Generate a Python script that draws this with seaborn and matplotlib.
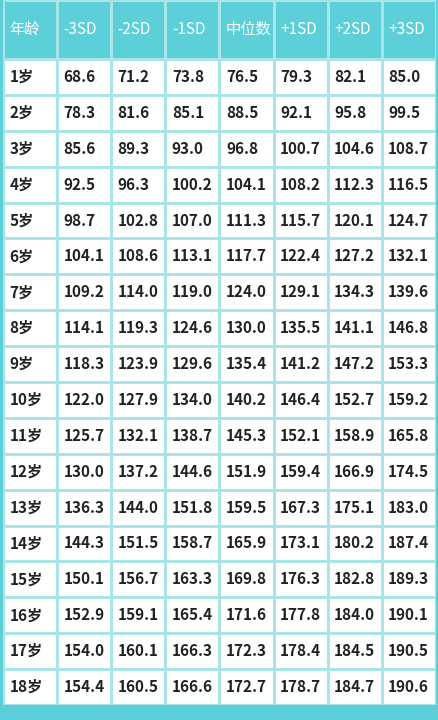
import numpy as np
import matplotlib.pyplot as plt
import seaborn as sns
from matplotlib.colors import ListedColormap

columns = ["年龄", "-3SD", "-2SD", "-1SD", "中位数", "+1SD", "+2SD", "+3SD"]
ages = [f"{i}岁" for i in range(1, 19)]
sd_m3 = [68.6, 78.3, 85.6, 92.5, 98.7, 104.1, 109.2, 114.1, 118.3, 122.0, 125.7, 130.0, 136.3, 144.3, 150.1, 152.9, 154.0, 154.4]
sd_m2 = [71.2, 81.6, 89.3, 96.3, 102.8, 108.6, 114.0, 119.3, 123.9, 127.9, 132.1, 137.2, 144.0, 151.5, 156.7, 159.1, 160.1, 160.5]
sd_m1 = [73.8, 85.1, 93.0, 100.2, 107.0, 113.1, 119.0, 124.6, 129.6, 134.0, 138.7, 144.6, 151.8, 158.7, 163.3, 165.4, 166.3, 166.6]
median = [76.5, 88.5, 96.8, 104.1, 111.3, 117.7, 124.0, 130.0, 135.4, 140.2, 145.3, 151.9, 159.5, 165.9, 169.8, 171.6, 172.3, 172.7]
sd_p1 = [79.3, 92.1, 100.7, 108.2, 115.7, 122.4, 129.1, 135.5, 141.2, 146.4, 152.1, 159.4, 167.3, 173.1, 176.3, 177.8, 178.4, 178.7]
sd_p2 = [82.1, 95.8, 104.6, 112.3, 120.1, 127.2, 134.3, 141.1, 147.2, 152.7, 158.9, 166.9, 175.1, 180.2, 182.8, 184.0, 184.5, 184.7]
sd_p3 = [85.0, 99.5, 108.7, 116.5, 124.7, 132.1, 139.6, 146.8, 153.3, 159.2, 165.8, 174.5, 183.0, 187.4, 189.3, 190.1, 190.5, 190.6]

teal = "#5ccfd8"
grid = "#a8e4e8"
series = [sd_m3, sd_m2, sd_m1, median, sd_p1, sd_p2, sd_p3]

body = np.array([[age] + [f"{s[i]:.1f}" for s in series] for i, age in enumerate(ages)])
header = np.array([columns])

sns.set_theme(style="white")
plt.rcParams["font.family"] = ["Noto Sans CJK SC", "DejaVu Sans"]

fig = plt.figure(figsize=(4.38, 7.2), dpi=100, facecolor=teal)
ax_h = fig.add_axes([0.007, 1 - 59 / 720, 0.988, 59 / 720])
ax_b = fig.add_axes([0.007, 15 / 720, 0.988, (705 - 59) / 720])

sns.heatmap(np.zeros(header.shape), ax=ax_h, cmap=ListedColormap([teal]), cbar=False,
            linewidths=2, linecolor=grid, annot=header, fmt="",
            annot_kws={"fontsize": 11, "color": "white"},
            xticklabels=False, yticklabels=False)
sns.heatmap(np.ones(body.shape), ax=ax_b, cmap=ListedColormap(["white"]), cbar=False,
            linewidths=2, linecolor=grid, annot=body, fmt="",
            annot_kws={"fontsize": 11, "fontweight": "bold", "color": "#222222"},
            xticklabels=False, yticklabels=False)
for ax in (ax_h, ax_b):
    for t in ax.texts:
        x, y = t.get_position()
        t.set_horizontalalignment("left")
        t.set_x(int(x) + 0.12)
fig.savefig("out.png", dpi=100, facecolor=teal)
